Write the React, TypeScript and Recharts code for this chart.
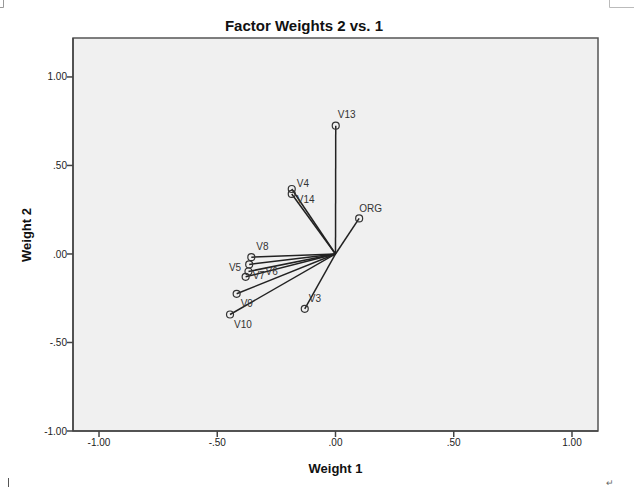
import React from 'react';
import {
  ScatterChart,
  Scatter,
  XAxis,
  YAxis,
  ReferenceArea,
  ReferenceLine,
} from 'recharts';

// ---- data ----
const variables = ['V13', 'V4', 'V14', 'ORG', 'V8', 'V5', 'V6', 'V7', 'V9', 'V10', 'V3'];
const weight1 = [0.001, -0.185, -0.185, 0.1, -0.356, -0.365, -0.368, -0.38, -0.418, -0.446, -0.13];
const weight2 = [0.725, 0.367, 0.339, 0.201, -0.018, -0.059, -0.099, -0.129, -0.225, -0.342, -0.31];
const xTicks = [-1, -0.5, 0, 0.5, 1];
const yTicks = [-1, -0.5, 0, 0.5, 1];
const xDomain = [-1.11, 1.11];
const yDomain = [-1, 1.22];

const points = variables.map((name, i) => ({ name, x: weight1[i], y: weight2[i] }));

// ---- label placement (style) ----
const labelOffsets: Record<string, { dx: number; dy: number; anchor?: string }> = {
  V13: { dx: 2, dy: -11 },
  V4: { dx: 5, dy: -6 },
  V14: { dx: 5, dy: 5 },
  ORG: { dx: 0, dy: -10 },
  V8: { dx: 5, dy: -11 },
  V5: { dx: -8, dy: 3, anchor: 'end' },
  V6: { dx: 17, dy: 0 },
  V7: { dx: 7, dy: -1 },
  V9: { dx: 4, dy: 10 },
  V10: { dx: 4, dy: 10 },
  V3: { dx: 4, dy: -10 },
};

const FONT = '"Liberation Sans", Arial, sans-serif';

const fmt = (v: number) => {
  const s = Math.abs(v).toFixed(2).replace(/^0/, '');
  return v < 0 ? '-' + s : s;
};

const Marker = (props: any) => {
  const { cx, cy, payload } = props;
  const o = labelOffsets[payload.name] || { dx: 4, dy: -10 };
  return (
    <g>
      <circle cx={cx} cy={cy} r={3.5} fill="none" stroke="#333" strokeWidth={1.2} />
      <text
        x={cx + o.dx}
        y={cy + o.dy + 3.6}
        textAnchor={(o.anchor as any) || 'start'}
        fontSize={10}
        fontFamily={FONT}
        fill="#333"
      >
        {payload.name}
      </text>
    </g>
  );
};

export default function App() {
  return (
    <div
      style={{
        position: 'absolute',
        left: 0,
        top: 0,
        width: 634,
        height: 487,
        background: '#fff',
        fontFamily: FONT,
      }}
    >
      <ScatterChart
        width={634}
        height={487}
        margin={{ top: 38, right: 36, bottom: 26, left: 23 }}
      >
        <ReferenceArea
          x1={xDomain[0]}
          x2={xDomain[1]}
          y1={yDomain[0]}
          y2={yDomain[1]}
          fill="#f0f0f0"
          fillOpacity={1}
          stroke="#555"
          strokeWidth={1.5}
        />
        <XAxis
          type="number"
          dataKey="x"
          domain={xDomain}
          ticks={xTicks}
          allowDataOverflow
          height={30}
          tickSize={6}
          tickMargin={2}
          tickFormatter={fmt}
          axisLine={{ stroke: '#444', strokeWidth: 1.5 }}
          tickLine={{ stroke: '#444', strokeWidth: 1.5 }}
          tick={{ fontSize: 10, fill: '#222', fontFamily: FONT }}
        />
        <YAxis
          type="number"
          dataKey="y"
          domain={yDomain}
          ticks={yTicks}
          allowDataOverflow
          width={50}
          tickSize={6}
          tickMargin={0}
          tickFormatter={fmt}
          axisLine={{ stroke: '#444', strokeWidth: 1.5 }}
          tickLine={{ stroke: '#444', strokeWidth: 1.5 }}
          tick={{ fontSize: 10, fill: '#222', fontFamily: FONT }}
        />
        {points.map((p) => (
          <ReferenceLine
            key={'l' + p.name}
            segment={[
              { x: 0, y: 0 },
              { x: p.x, y: p.y },
            ]}
            stroke="#222"
            strokeWidth={1.5}
          />
        ))}
        <Scatter data={points} shape={Marker} isAnimationActive={false} />
      </ScatterChart>
      <svg
        width={634}
        height={487}
        style={{ position: 'absolute', left: 0, top: 0, pointerEvents: 'none' }}
      >
        <text
          x={304}
          y={31}
          textAnchor="middle"
          fontSize={15}
          fontWeight="bold"
          fontFamily={FONT}
          fill="#111"
        >
          Factor Weights 2 vs. 1
        </text>
        <text
          x={335.5}
          y={473}
          textAnchor="middle"
          fontSize={13}
          fontWeight="bold"
          fontFamily={FONT}
          fill="#111"
        >
          Weight 1
        </text>
        <text
          transform="translate(31,235) rotate(-90)"
          textAnchor="middle"
          fontSize={13}
          fontWeight="bold"
          fontFamily={FONT}
          fill="#111"
        >
          Weight 2
        </text>
        <path d="M0 7.5 H3.5 V0" fill="none" stroke="#999" strokeWidth={1} />
        <path d="M609.5 0 V7.5 H634" fill="none" stroke="#bbb" strokeWidth={1} />
        <path d="M8.5 478 V487" fill="none" stroke="#555" strokeWidth={1} />
        <text x={606} y={486} fontSize={9} fill="#666" fontFamily={FONT}>
          ↵
        </text>
      </svg>
    </div>
  );
}
